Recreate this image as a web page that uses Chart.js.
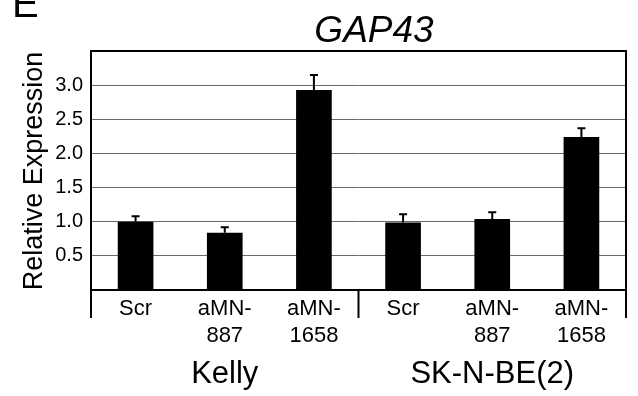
<!DOCTYPE html>
<html>
<head>
<meta charset="utf-8">
<script src="https://cdn.jsdelivr.net/npm/chart.js@4"></script>
<style>
  html, body { margin: 0; padding: 0; background: #fff; }
  #wrap { width: 638px; height: 396px; }
</style>
</head>
<body>
<div id="wrap"><canvas id="chart" width="638" height="396"></canvas></div>
<script>
// data
const categories = ['Scr', ['aMN-', '887'], ['aMN-', '1658'], 'Scr', ['aMN-', '887'], ['aMN-', '1658']];
const expression = [1.00, 0.84, 2.93, 0.99, 1.04, 2.24];
const errors = [0.08, 0.08, 0.22, 0.12, 0.10, 0.13];
const groups = ['Kelly', 'SK-N-BE(2)'];
const yTicks = [0.5, 1.0, 1.5, 2.0, 2.5, 3.0];

const FONT = "'Liberation Sans', Arial, sans-serif";

const extras = {
  id: 'extras',
  afterDraw(chart) {
    const ctx = chart.ctx;
    const area = chart.chartArea;
    const x = chart.scales.x;
    const y = chart.scales.y;
    ctx.save();

    // error bars (upper only)
    ctx.strokeStyle = '#000';
    ctx.lineWidth = 2;
    expression.forEach((v, i) => {
      const px = x.getPixelForValue(i);
      const top = y.getPixelForValue(v + errors[i]);
      const base = y.getPixelForValue(v);
      ctx.beginPath();
      ctx.moveTo(px, base);
      ctx.lineTo(px, top);
      ctx.moveTo(px - 4, top);
      ctx.lineTo(px + 4, top);
      ctx.stroke();
    });

    // frame
    ctx.lineWidth = 2;
    ctx.strokeRect(area.left, area.top, area.right - area.left, area.bottom - area.top);

    // group separators under the axis
    const sepLen = 28;
    const mid = (x.getPixelForValue(2) + x.getPixelForValue(3)) / 2;
    [area.left, mid, area.right].forEach(sx => {
      ctx.beginPath();
      ctx.moveTo(sx, area.bottom);
      ctx.lineTo(sx, area.bottom + sepLen);
      ctx.stroke();
    });

    // group labels
    ctx.fillStyle = '#000';
    ctx.font = '31px ' + FONT;
    ctx.textAlign = 'center';
    ctx.textBaseline = 'alphabetic';
    ctx.fillText(groups[0], x.getPixelForValue(1), 383);
    ctx.fillText(groups[1], x.getPixelForValue(4), 383);

    // title
    ctx.font = 'italic 37px ' + FONT;
    ctx.fillText('GAP43', 374, 42);

    // y axis title
    ctx.save();
    ctx.translate(42, 171);
    ctx.rotate(-Math.PI / 2);
    ctx.font = '27px ' + FONT;
    ctx.fillText('Relative Expression', 0, 0);
    ctx.restore();

    // panel letter, cut at the top edge
    ctx.textAlign = 'left';
    ctx.font = '40px ' + FONT;
    ctx.fillText('E', 12, 17);

    ctx.restore();
  }
};

new Chart(document.getElementById('chart'), {
  type: 'bar',
  data: {
    labels: categories,
    datasets: [{
      data: expression,
      backgroundColor: '#000',
      borderWidth: 0,
      barPercentage: 0.4,
      categoryPercentage: 1.0
    }]
  },
  options: {
    responsive: false,
    animation: false,
    layout: { padding: { top: 51, right: 12, left: 0, bottom: 0 } },
    plugins: { legend: { display: false }, tooltip: { enabled: false }, title: { display: false } },
    scales: {
      x: {
        afterFit(s) { s.height = 106; },
        grid: { display: false, drawTicks: false },
        border: { display: false },
        ticks: {
          color: '#000',
          font: { family: FONT, size: 22, lineHeight: 1.25 },
          padding: 5,
          maxRotation: 0,
          autoSkip: false
        }
      },
      y: {
        min: 0,
        max: 3.5,
        afterFit(s) { s.width = 91; },
        afterBuildTicks(s) { s.ticks = [0, ...yTicks, 3.5].map(v => ({ value: v })); },
        grid: {
          drawTicks: false,
          color: c => (yTicks.includes(c.tick.value) ? '#6a6a6a' : 'rgba(0,0,0,0)'),
          lineWidth: 1
        },
        border: { display: false },
        ticks: {
          color: '#000',
          font: { family: FONT, size: 20 },
          padding: 8,
          callback: v => (yTicks.includes(v) ? v.toFixed(1) : '')
        }
      }
    }
  },
  plugins: [extras]
});
</script>
</body>
</html>
